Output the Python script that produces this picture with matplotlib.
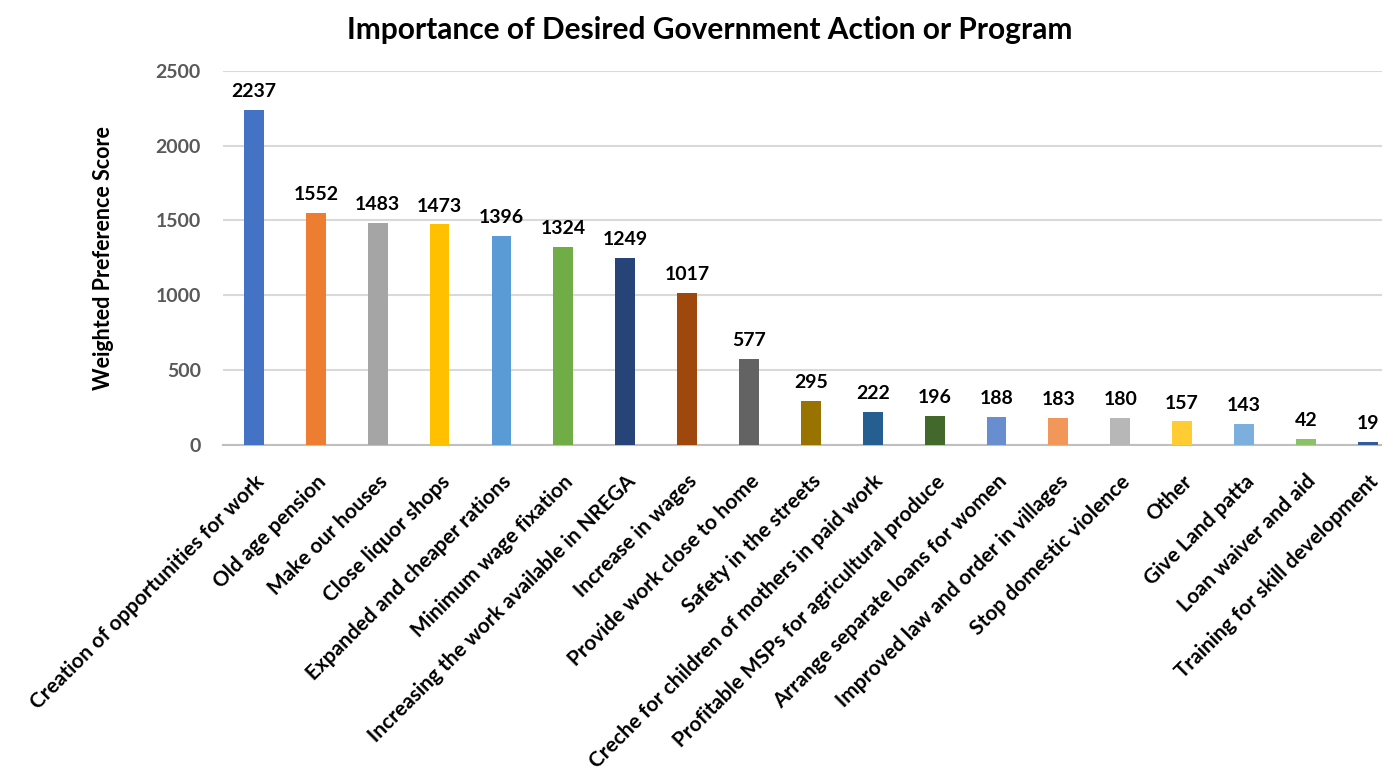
import matplotlib
matplotlib.use("Agg")
import matplotlib.pyplot as plt

categories = [
    "Creation of opportunities for work", "Old age pension", "Make our houses",
    "Close liquor shops", "Expanded and cheaper rations", "Minimum wage fixation",
    "Increasing the work available in NREGA", "Increase in wages",
    "Provide work close to home", "Safety in the streets",
    "Creche for children of mothers in paid work",
    "Profitable MSPs for agricultural produce", "Arrange separate loans for women",
    "Improved law and order in villages", "Stop domestic violence", "Other",
    "Give Land patta", "Loan waiver and aid", "Training for skill development",
]
values = [2237, 1552, 1483, 1473, 1396, 1324, 1249, 1017, 577, 295, 222, 196,
          188, 183, 180, 157, 143, 42, 19]
colors = ["#4472C4", "#ED7D31", "#A5A5A5", "#FFC000", "#5B9BD5", "#70AD47",
          "#264478", "#9E480E", "#636363", "#997300", "#255E91", "#43682B",
          "#698ED0", "#F1975A", "#B7B7B7", "#FFCD33", "#7CAFDD", "#8CC168",
          "#335AA1"]
yticks = [0, 500, 1000, 1500, 2000, 2500]

plt.rcParams['font.family'] = ['Lato', 'DejaVu Sans']

W, H = 1382, 774
fig = plt.figure(figsize=(W / 100, H / 100), dpi=100)
ax = fig.add_axes([223 / W, 1 - 445 / H, (W - 223) / W, (445 - 70.7) / H])

x = list(range(len(categories)))
bars = ax.bar(x, values, width=0.32, color=colors, zorder=3)
for xi, v in zip(x, values):
    ax.annotate(str(v), (xi, v), xytext=(0, 7), textcoords="offset points",
                ha="center", va="bottom", fontsize=14, fontweight="bold",
                color="black")

ax.set_xlim(-0.5, 18.23)
ax.set_ylim(0, 2500)
ax.set_yticks(yticks)
ax.set_yticklabels([str(t) for t in yticks], fontsize=14, fontweight="bold",
                   color="#595959")
ax.set_xticks(x)
ax.set_xticklabels(categories, rotation=45, ha="right", rotation_mode="anchor",
                   fontsize=15, fontweight="bold", color="black")
ax.tick_params(axis="both", length=0)
ax.tick_params(axis="y", pad=16)
ax.tick_params(axis="x", pad=19)
ax.grid(axis="y", color="#D9D9D9", linewidth=1.5, zorder=0)
for s in ["top", "right", "left"]:
    ax.spines[s].set_visible(False)
ax.spines["bottom"].set_color("#BFBFBF")
ax.spines["bottom"].set_linewidth(1.5)

ax.set_ylabel("Weighted Preference Score", fontsize=15.5, fontweight="bold",
              color="black", labelpad=30)
fig.text(710 / W, 1 - 30 / H, "Importance of Desired Government Action or Program",
         ha="center", va="center", fontsize=21.5, fontweight="bold", color="black")

fig.savefig("out.png", dpi=100)
